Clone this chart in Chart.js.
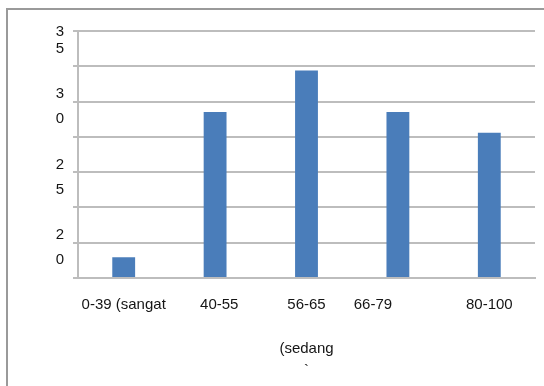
<!DOCTYPE html>
<html>
<head>
<meta charset="utf-8">
<script src="https://cdn.jsdelivr.net/npm/chart.js@4"></script>
<style>
  html, body { margin: 0; padding: 0; background: #fff; overflow: hidden; }
  #wrap { position: relative; width: 544px; height: 386px; }
  #frame {
    position: absolute; left: 6px; top: 8px; width: 700px; height: 600px;
    border-left: 2px solid #9a9a9a; border-top: 2px solid #9a9a9a;
    pointer-events: none;
  }
</style>
</head>
<body>
<div id="wrap">
  <canvas id="chart" width="544" height="386"></canvas>
  <div id="frame"></div>
</div>
<script>
// Score bands (each label may run onto extra lines)
const categories = [
  ["0-39 (sangat"],
  ["  40-55"],
  ["56-65", "", "(sedang", "`"],
  ["66-79            "],
  ["80-100"]
];
// Share of students in each band (%)
const values = [2.94, 23.53, 29.41, 23.53, 20.59];
// Value-axis ticks that carry text, and the text written at each
const yTickValues = [5, 15, 25, 35];
const yTickTexts = ["20", "25", "30", "35"];

const FONT = "'Liberation Sans', Arial, sans-serif";
const GRID = '#bdbdbd';
const INK = '#151515';

new Chart(document.getElementById('chart'), {
  type: 'bar',
  data: {
    labels: categories,
    datasets: [{
      data: values,
      backgroundColor: '#4a7dba',
      borderWidth: 0,
      categoryPercentage: 1,
      barPercentage: 0.25
    }]
  },
  options: {
    responsive: false,
    animation: false,
    layout: { padding: { top: 31, right: 9, left: 0, bottom: 0 } },
    plugins: { legend: { display: false }, tooltip: { enabled: false } },
    scales: {
      x: {
        grid: { display: false },
        border: { display: true, color: GRID, width: 2 },
        ticks: {
          color: INK,
          padding: 8,
          maxRotation: 0,
          autoSkip: false,
          font: { family: FONT, size: 15, lineHeight: '22px' }
        },
        afterFit: (s) => { s.height = 108; s.paddingLeft = 0; s.paddingRight = 0; }
      },
      y: {
        min: 0,
        max: 35,
        grid: { color: GRID, lineWidth: 2, tickLength: 5 },
        border: { display: true, color: GRID, width: 2 },
        ticks: {
          stepSize: 5,
          autoSkip: false,
          color: INK,
          padding: 9,
          labelOffset: 17.5,
          font: (ctx) => ({
            family: FONT,
            size: 15,
            lineHeight: (ctx.tick && ctx.tick.value === 35) ? '17px' : '25px'
          }),
          callback: (v) => {
            const i = yTickValues.indexOf(v);
            if (i < 0) return '';
            return yTickTexts[i].split('').concat(['']);
          }
        },
        afterFit: (s) => { s.width = 78; s.paddingTop = 0; s.paddingBottom = 0; }
      }
    }
  }
});
</script>
</body>
</html>
